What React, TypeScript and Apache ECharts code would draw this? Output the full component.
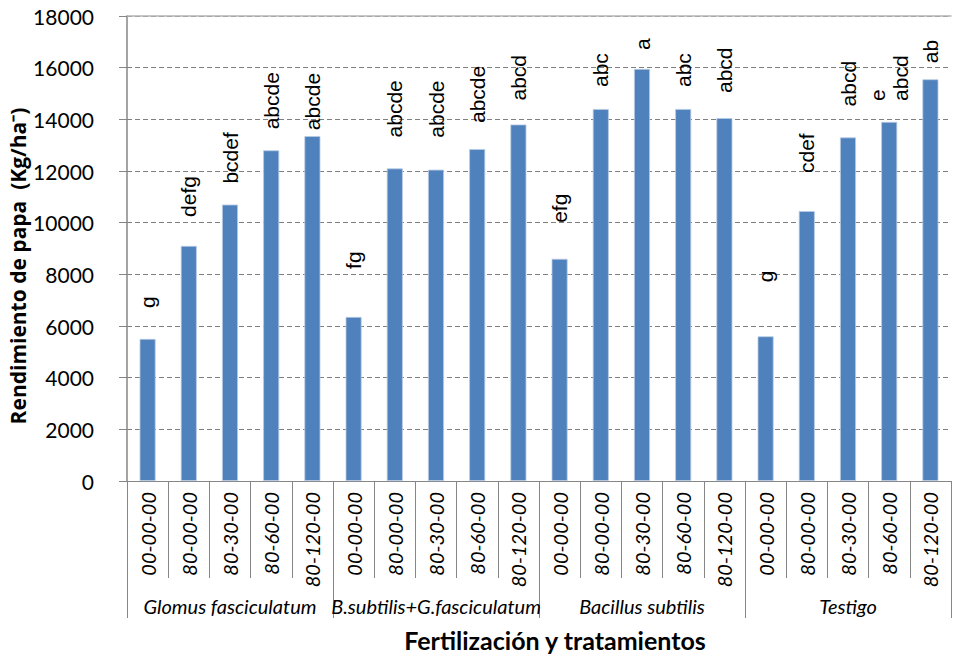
import React, { useEffect, useRef } from "react";
import * as echarts from "echarts";

const doses = ["00-00-00", "80-00-00", "80-30-00", "80-60-00", "80-120-00"];
const groups = ["Glomus fasciculatum", "B.subtilis+G.fasciculatum", "Bacillus subtilis", "Testigo"];
const categories = groups.flatMap(() => doses);
const yields = [
  5500, 9100, 10700, 12800, 13350,
  6350, 12100, 12050, 12850, 13800,
  8600, 14400, 15950, 14400, 14050,
  5600, 10450, 13300, 13900, 15550,
];
const letters = [
  "g", "defg", "bcdef", "abcde", "abcde",
  "fg", "abcde", "abcde", "abcde", "abcd",
  "efg", "abc", "a", "abc", "abcd",
  "g", "cdef", "abcd", "e\nabcd", "ab",
];
// label gap above each bar (px), layout only
const labelGap = [31, 29, 21, 21, 6, 48, 31, 32, 26, 24, 36, 22, 19, 22, 25, 54, 38, 31, 21, 16];
const yTicks = { min: 0, max: 18000, interval: 2000 };
const yTitle = "Rendimiento de papa  (Kg/ha⁻)";
const xTitle = "Fertilización y tratamientos";

export default function App() {
  const ref = useRef<HTMLDivElement>(null);
  useEffect(() => {
    if (!ref.current) return;
    const chart = echarts.init(ref.current, null, { renderer: "svg" });
    const gray = "#868686";
    chart.setOption({
      animation: false,
      grid: { left: 127, right: 5, top: 16, bottom: 174, containLabel: false },
      graphic: [
        {
          type: "text",
          x: 18,
          y: 266,
          rotation: Math.PI / 2,
          style: {
            text: yTitle,
            fontFamily: "Open Sans",
            fontWeight: "bold",
            fontSize: 21,
            fill: "#000",
            align: "center",
            verticalAlign: "middle",
          },
        },
        {
          type: "text",
          x: 555,
          y: 640,
          style: {
            text: xTitle,
            fontFamily: "Lato",
            fontWeight: "bold",
            fontSize: 25,
            fill: "#000",
            align: "center",
            verticalAlign: "middle",
          },
        },
      ],
      xAxis: [
        {
          type: "category",
          data: categories,
          position: "bottom",
          axisLine: { show: true, lineStyle: { color: gray, width: 1 } },
          axisTick: { show: true, interval: 0, length: 97, lineStyle: { color: gray } },
          axisLabel: {
            interval: 0,
            rotate: 90,
            margin: 11,
            fontFamily: "Lato",
            fontStyle: "italic",
            fontSize: 20,
            color: "#000",
          },
        },
        {
          type: "category",
          data: groups,
          position: "bottom",
          axisLine: { show: false },
          axisTick: { show: true, interval: 0, length: 137, lineStyle: { color: gray } },
          axisLabel: {
            interval: 0,
            margin: 115,
            fontFamily: "Lato",
            fontStyle: "italic",
            fontSize: 20,
            color: "#000",
          },
        },
        {
          type: "category",
          data: categories,
          position: "top",
          axisLine: { show: true, lineStyle: { color: "#b4b4b4", width: 1.5 } },
          axisTick: { show: false },
          axisLabel: { show: false },
        },
      ],
      yAxis: {
        type: "value",
        min: yTicks.min,
        max: yTicks.max,
        interval: yTicks.interval,
        axisLine: { show: true, lineStyle: { color: gray, width: 1.5 } },
        axisTick: { show: true, length: 8, lineStyle: { color: gray } },
        axisLabel: {
          margin: 33,
          fontFamily: "Lato",
          fontSize: 21,
          color: "#000",
          formatter: (v: number) => String(v),
        },
        splitLine: { show: true, lineStyle: { color: "#7f7f7f", type: [5, 3], width: 1 } },
      },
      series: [
        {
          type: "bar",
          xAxisIndex: 0,
          barWidth: 16,
          itemStyle: { color: "#4F81BD", borderColor: "#b9cbe4", borderWidth: 0.8 },
          data: yields.map((v, i) => ({
            value: v,
            label: {
              show: true,
              position: "top",
              rotate: 90,
              align: "left",
              verticalAlign: "middle",
              distance: labelGap[i],
              formatter: letters[i],
              fontFamily: "Liberation Sans",
              fontSize: 21,
              lineHeight: 23,
              color: "#000",
            },
          })),
        },
      ],
    });
    return () => chart.dispose();
  }, []);
  return <div ref={ref} style={{ width: 956, height: 655, position: "absolute", left: 0, top: 0 }} />;
}
